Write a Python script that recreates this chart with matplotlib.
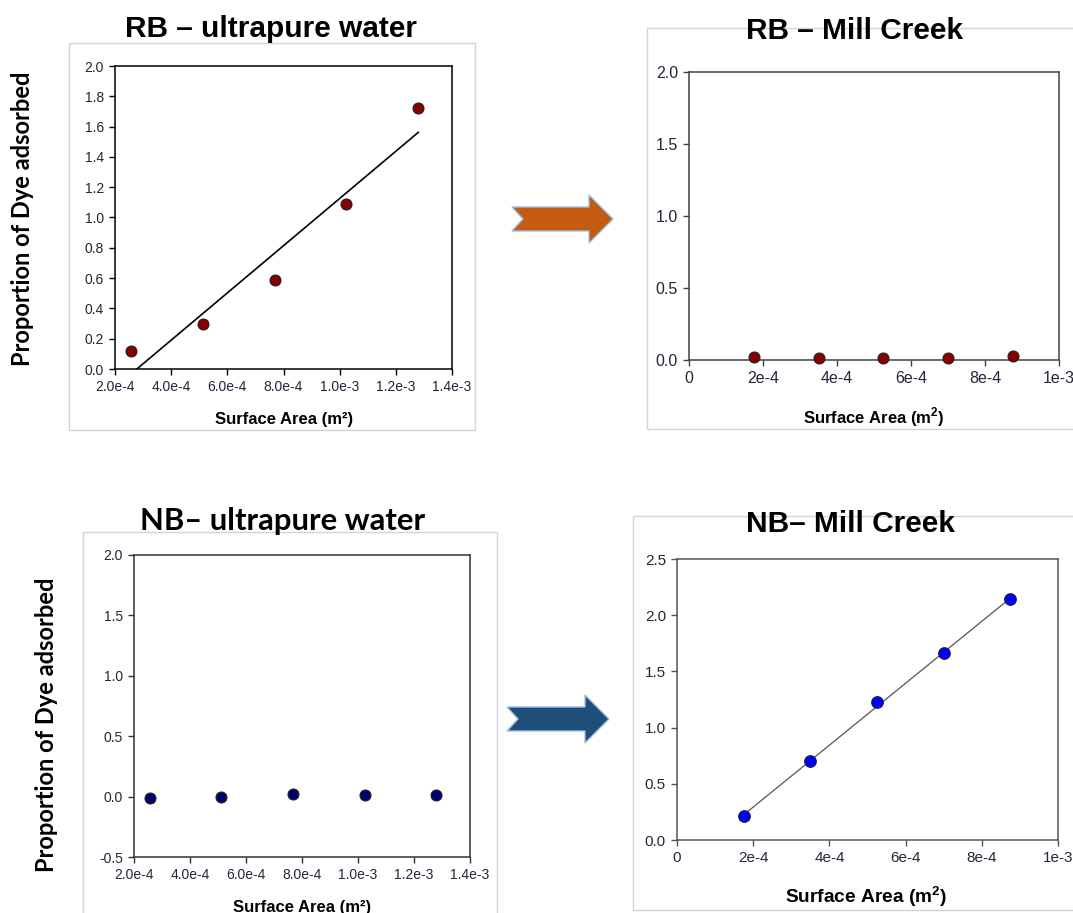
import matplotlib
matplotlib.use("Agg")
import matplotlib.pyplot as plt
import numpy as np
from matplotlib.patches import Polygon, Rectangle
from matplotlib.ticker import FixedLocator, FixedFormatter

plt.rcParams["font.family"] = ["Liberation Sans", "DejaVu Sans"]
plt.rcParams["mathtext.fontset"] = "custom"
plt.rcParams["mathtext.rm"] = "Liberation Sans"
plt.rcParams["mathtext.bf"] = "Liberation Sans:bold"

# surface areas for the two sample sets
sa_ultrapure = [2.56e-4, 5.12e-4, 7.68e-4, 1.024e-3, 1.28e-3]
sa_mill = [1.75e-4, 3.50e-4, 5.25e-4, 7.00e-4, 8.75e-4]

# proportion of dye adsorbed
rb_ultrapure = [0.12, 0.30, 0.59, 1.09, 1.72]
rb_mill = [0.02, 0.015, 0.015, 0.015, 0.025]
nb_ultrapure = [-0.01, 0.0, 0.02, 0.01, 0.01]
nb_mill = [0.21, 0.70, 1.23, 1.66, 2.14]

titles = ["RB \u2013 ultrapure water", "RB \u2013 Mill Creek",
          "NB\u2013 ultrapure water", "NB\u2013 Mill Creek"]
ylabel = "Proportion of Dye adsorbed"

ultra_xticks = [2e-4, 4e-4, 6e-4, 8e-4, 1.0e-3, 1.2e-3, 1.4e-3]
ultra_xticklabels = ["2.0e-4", "4.0e-4", "6.0e-4", "8.0e-4", "1.0e-3", "1.2e-3", "1.4e-3"]
mill_xticks = [0, 2e-4, 4e-4, 6e-4, 8e-4, 1e-3]
mill_xticklabels = ["0", "2e-4", "4e-4", "6e-4", "8e-4", "1e-3"]

W, H = 1073, 913
fig = plt.figure(figsize=(W / 100, H / 100), dpi=100)


def px_axes(l, t, r, b):
    return fig.add_axes([l / W, 1 - b / H, (r - l) / W, (b - t) / H])


def px(x, y):
    return x / W, 1 - y / H


def frame(l, t, r, b):
    fig.patches.append(Rectangle(px(l, b), (r - l) / W, (b - t) / H, transform=fig.transFigure,
                                 fill=False, edgecolor="#d4d4d4", lw=1.0, zorder=0))


def style_axes(ax, spine_color, tick_size):
    for s in ax.spines.values():
        s.set_color(spine_color)
        s.set_linewidth(1.1)
    ax.tick_params(direction="out", length=4, width=1, color=spine_color,
                   labelsize=tick_size, labelcolor="#24243a", pad=4)
    ax.tick_params(axis="x", top=False)
    ax.tick_params(axis="y", right=False)


def set_xticks(ax, ticks, labels):
    ax.xaxis.set_major_locator(FixedLocator(ticks))
    ax.xaxis.set_major_formatter(FixedFormatter(labels))


# background frames
frame(69, 43, 475, 430)
frame(647, 28, 1080, 429)
frame(83, 532, 497, 920)
frame(633, 516, 1080, 910)

# RB - ultrapure water
ax1 = px_axes(115, 66, 452, 369)
style_axes(ax1, "black", 10)
ax1.scatter(sa_ultrapure, rb_ultrapure, s=62, color="#850000", edgecolor="#222222", lw=0.8, zorder=3)
k, c = np.polyfit(sa_ultrapure, rb_ultrapure, 1)
fit_x = np.array([sa_ultrapure[0], sa_ultrapure[-1]])
ax1.plot(fit_x, k * fit_x + c, color="black", lw=1.2, zorder=2)
ax1.set_xlim(2e-4, 1.4e-3)
ax1.set_ylim(0, 2.0)
set_xticks(ax1, ultra_xticks, ultra_xticklabels)
ax1.set_yticks(np.arange(0, 2.01, 0.2))
ax1.set_yticklabels([f"{v:.1f}" for v in np.arange(0, 2.01, 0.2)])

# RB - Mill Creek
ax2 = px_axes(689, 72, 1059, 360)
style_axes(ax2, "#404040", 11.5)
ax2.scatter(sa_mill, rb_mill, s=62, color="#850000", edgecolor="#222222", lw=0.8, zorder=3, clip_on=False)
ax2.set_xlim(0, 1e-3)
ax2.set_ylim(0, 2.0)
set_xticks(ax2, mill_xticks, mill_xticklabels)
ax2.set_yticks(np.arange(0, 2.01, 0.5))
ax2.set_yticklabels([f"{v:.1f}" for v in np.arange(0, 2.01, 0.5)])

# NB - ultrapure water
ax3 = px_axes(134, 555, 470, 857)
style_axes(ax3, "#333333", 10)
ax3.scatter(sa_ultrapure, nb_ultrapure, s=62, color="#00006e", edgecolor="#222222", lw=0.8, zorder=3)
ax3.set_xlim(2e-4, 1.4e-3)
ax3.set_ylim(-0.5, 2.0)
set_xticks(ax3, ultra_xticks, ultra_xticklabels)
ax3.set_yticks(np.arange(-0.5, 2.01, 0.5))
ax3.set_yticklabels([f"{v:.1f}" for v in np.arange(-0.5, 2.01, 0.5)])

# NB - Mill Creek
ax4 = px_axes(677, 559, 1058, 840)
style_axes(ax4, "#555555", 11)
k, c = np.polyfit(sa_mill, nb_mill, 1)
fit_x = np.array([sa_mill[0], sa_mill[-1]])
ax4.plot(fit_x, k * fit_x + c, color="#555555", lw=0.9, zorder=2)
ax4.scatter(sa_mill, nb_mill, s=70, color="#0000ff", edgecolor="#1a1a40", lw=0.8, zorder=3)
ax4.set_xlim(0, 1e-3)
ax4.set_ylim(0, 2.5)
set_xticks(ax4, mill_xticks, mill_xticklabels)
ax4.set_yticks(np.arange(0, 2.51, 0.5))
ax4.set_yticklabels([f"{v:.1f}" for v in np.arange(0, 2.51, 0.5)])

# titles
fig.text(*px(271, 37), titles[0], ha="center", va="baseline", fontsize=21.5, fontweight="bold")
fig.text(*px(855, 39), titles[1], ha="center", va="baseline", fontsize=21.5, fontweight="bold")
fig.text(*px(283, 530), titles[2], ha="center", va="baseline", fontsize=22.3, fontweight="bold",
         family=["Lato", "DejaVu Sans"])
fig.text(*px(850, 532), titles[3], ha="center", va="baseline", fontsize=21.5, fontweight="bold")

# axis labels
fig.text(*px(284, 424), "Surface Area (m\u00b2)", ha="center", va="baseline", fontsize=12, fontweight="bold")
fig.text(*px(874, 423), "Surface Area (m$^\\mathbf{2}$)", ha="center", va="baseline", fontsize=12,
         fontweight="bold")
fig.text(*px(302, 912), "Surface Area (m\u00b2)", ha="center", va="baseline", fontsize=12, fontweight="bold")
fig.text(*px(866, 903), "Surface Area (m$^\\mathbf{2}$)", ha="center", va="baseline", fontsize=13.8,
         fontweight="bold")
fig.text(*px(23, 219), ylabel, ha="center", va="center", rotation=90, fontsize=17, fontweight="bold",
         family=["Lato", "DejaVu Sans"])
fig.text(*px(47, 725), ylabel, ha="center", va="center", rotation=90, fontsize=17, fontweight="bold",
         family=["Lato", "DejaVu Sans"])


# block arrows between the panels
def block_arrow(x0, yc, length, color):
    pts = [(x0, yc - 12), (x0 + length - 24, yc - 12), (x0 + length - 24, yc - 24),
           (x0 + length, yc), (x0 + length - 24, yc + 24), (x0 + length - 24, yc + 12),
           (x0, yc + 12), (x0 + 11, yc)]
    pts = [px(x, y) for x, y in pts]
    fig.patches.append(Polygon(pts, closed=True, transform=fig.transFigure, facecolor=color,
                               edgecolor="#9dbfe3", lw=1.0, zorder=1))


block_arrow(512, 219, 101, "#c55a11")
block_arrow(507, 719, 102, "#1f4e79")

fig.savefig("out.png", dpi=100)
